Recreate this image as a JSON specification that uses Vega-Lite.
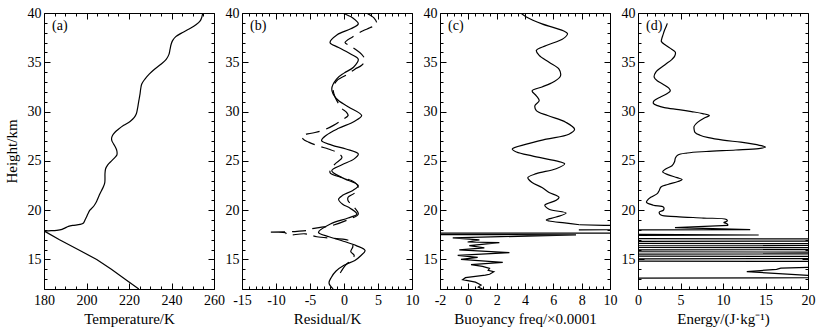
{
"$schema": "https://vega.github.io/schema/vega-lite/v6.json",
"padding": {"left": 4, "top": 6, "right": 4, "bottom": 1},
"spacing": 28,
"bounds": "flush",
"config": {
 "view": {"stroke": null},
 "axis": {"grid": false, "domainColor": "black", "domainWidth": 1, "tickColor": "black", "tickWidth": 1, "labelColor": "black", "titleColor": "black", "labelFont": "Liberation Serif", "labelFontSize": 14, "titleFont": "Liberation Serif", "titleFontSize": 15, "titleFontWeight": "normal", "labelFlush": false, "labelOverlap": false, "titlePadding": 1},
 "text": {"font": "Liberation Serif", "fontSize": 14, "color": "black"}
},
"datasets": {
 "temp_up": [{"h":40,"v":254.7},{"h":39.6,"v":254.3},{"h":39.2,"v":253.5},{"h":38.8,"v":251.5},{"h":38.4,"v":248.5},{"h":38.0,"v":245.0},{"h":37.6,"v":242.0},{"h":37.2,"v":240.5},{"h":36.8,"v":239.8},{"h":36.3,"v":239.3},{"h":35.8,"v":238.8},{"h":35.3,"v":237.5},{"h":34.8,"v":235.0},{"h":34.3,"v":232.0},{"h":33.8,"v":229.5},{"h":33.3,"v":227.5},{"h":32.8,"v":226.0},{"h":32.3,"v":225.5},{"h":31.8,"v":225.2},{"h":31.3,"v":224.8},{"h":30.8,"v":224.4},{"h":30.3,"v":224.0},{"h":29.8,"v":223.5},{"h":29.4,"v":222.5},{"h":29.0,"v":220.5},{"h":28.6,"v":217.5},{"h":28.2,"v":215.0},{"h":27.9,"v":213.4},{"h":27.6,"v":212.3},{"h":27.3,"v":211.8},{"h":27.0,"v":212.0},{"h":26.7,"v":212.8},{"h":26.3,"v":213.8},{"h":26.0,"v":214.3},{"h":25.6,"v":214.3},{"h":25.3,"v":213.2},{"h":25.0,"v":211.8},{"h":24.6,"v":210.0},{"h":24.2,"v":209.0},{"h":23.7,"v":208.7},{"h":23.2,"v":208.7},{"h":22.8,"v":208.6},{"h":22.4,"v":208.0},{"h":22.0,"v":207.1},{"h":21.6,"v":206.2},{"h":21.3,"v":205.6},{"h":20.9,"v":204.8},{"h":20.6,"v":204.0},{"h":20.3,"v":203.0},{"h":20.0,"v":201.6},{"h":19.6,"v":200.6},{"h":19.3,"v":200.0},{"h":19.0,"v":199.3},{"h":18.7,"v":198.6},{"h":18.55,"v":197.0},{"h":18.45,"v":193.5},{"h":18.35,"v":191.5},{"h":18.2,"v":190.0},{"h":18.05,"v":188.5},{"h":17.95,"v":186.0},{"h":17.9,"v":182.0},{"h":17.87,"v":180.2}],
 "temp_low": [{"h":17.87,"v":180.2},{"h":17.0,"v":187.3},{"h":16.0,"v":196.0},{"h":15.0,"v":204.8},{"h":14.0,"v":211.7},{"h":13.0,"v":218.2},{"h":12.0,"v":224.6}],
 "resid_solid": [{"h":40,"v":-0.3},{"h":39.5,"v":1.3},{"h":38.9,"v":2.1},{"h":38.4,"v":1.0},{"h":37.8,"v":-1.0},{"h":37.0,"v":-2.05},{"h":36.5,"v":-0.8},{"h":35.8,"v":1.1},{"h":35.3,"v":2.1},{"h":34.5,"v":1.4},{"h":33.9,"v":0.0},{"h":33.3,"v":-1.1},{"h":32.3,"v":-1.8},{"h":31.3,"v":-1.1},{"h":30.5,"v":0.6},{"h":29.6,"v":2.6},{"h":29.0,"v":1.5},{"h":28.3,"v":-0.8},{"h":27.6,"v":-2.6},{"h":27.05,"v":-3.3},{"h":26.6,"v":-1.8},{"h":26.2,"v":0.3},{"h":25.7,"v":2.1},{"h":25.2,"v":1.5},{"h":24.6,"v":-0.3},{"h":24.0,"v":-1.8},{"h":23.3,"v":-0.3},{"h":22.5,"v":2.1},{"h":22.0,"v":1.3},{"h":21.5,"v":-0.2},{"h":21.1,"v":-0.8},{"h":20.6,"v":-0.2},{"h":20.2,"v":0.9},{"h":19.6,"v":1.9},{"h":19.2,"v":0.6},{"h":18.6,"v":-2.0},{"h":17.75,"v":-3.75},{"h":17.3,"v":-2.2},{"h":16.9,"v":-0.3},{"h":16.4,"v":1.8},{"h":15.9,"v":3.1},{"h":15.4,"v":2.5},{"h":14.9,"v":1.6},{"h":14.4,"v":0.0},{"h":13.8,"v":-1.2},{"h":13.2,"v":-1.85},{"h":12.6,"v":-2.2},{"h":12.0,"v":-1.6}],
 "resid_dash": [{"h":40,"v":3.3},{"h":39.5,"v":4.4},{"h":38.9,"v":4.8},{"h":38.5,"v":3.8},{"h":38.2,"v":2.8},{"h":37.6,"v":1.3},{"h":37.0,"v":0.15},{"h":36.7,"v":0.8},{"h":36.35,"v":1.6},{"h":35.8,"v":2.6},{"h":35.2,"v":3.1},{"h":34.7,"v":2.6},{"h":34.3,"v":1.6},{"h":33.7,"v":0.3},{"h":33.1,"v":-1.1},{"h":32.3,"v":-1.6},{"h":31.45,"v":-1.3},{"h":30.8,"v":-0.8},{"h":30.3,"v":-0.3},{"h":29.9,"v":0.4},{"h":29.6,"v":0.6},{"h":29.1,"v":-0.4},{"h":28.6,"v":-1.55},{"h":28.05,"v":-3.3},{"h":27.8,"v":-4.8},{"h":27.55,"v":-6.2},{"h":27.2,"v":-6.0},{"h":26.9,"v":-5.2},{"h":26.5,"v":-3.7},{"h":26.2,"v":-2.3},{"h":25.8,"v":-0.9},{"h":25.35,"v":-0.3},{"h":24.7,"v":-1.3},{"h":24.2,"v":-1.9},{"h":23.8,"v":-2.05},{"h":23.3,"v":-0.3},{"h":23.0,"v":1.1},{"h":22.6,"v":1.9},{"h":22.15,"v":2.1},{"h":21.7,"v":1.5},{"h":21.3,"v":0.6},{"h":20.96,"v":0.6},{"h":20.3,"v":1.5},{"h":19.6,"v":2.1},{"h":19.0,"v":0.5},{"h":18.4,"v":-2.0},{"h":18.25,"v":-3.5},{"h":18.1,"v":-4.8},{"h":18.0,"v":-5.0},{"h":17.85,"v":-6.9},{"h":17.75,"v":-11.1},{"h":17.7,"v":-8.6},{"h":17.5,"v":-8.4},{"h":17.6,"v":-5.7},{"h":17.3,"v":-4.0},{"h":16.8,"v":1.1},{"h":16.3,"v":1.3},{"h":15.8,"v":1.0},{"h":15.4,"v":1.5},{"h":14.9,"v":1.0},{"h":14.4,"v":0.2},{"h":13.8,"v":-0.4},{"h":13.2,"v":-0.9}],
 "buoy_up": [{"h":40,"v":3.7},{"h":39.6,"v":4.1},{"h":38.9,"v":5.2},{"h":38.2,"v":6.7},{"h":37.9,"v":7.0},{"h":37.4,"v":6.7},{"h":36.7,"v":5.5},{"h":36.2,"v":4.8},{"h":35.7,"v":5.0},{"h":35.0,"v":5.7},{"h":34.3,"v":6.4},{"h":33.6,"v":6.5},{"h":33.0,"v":6.0},{"h":32.5,"v":5.2},{"h":32.1,"v":4.5},{"h":31.6,"v":4.8},{"h":31.1,"v":5.0},{"h":30.6,"v":4.7},{"h":30.1,"v":4.8},{"h":29.6,"v":5.6},{"h":28.9,"v":6.9},{"h":28.2,"v":7.5},{"h":27.7,"v":7.1},{"h":27.2,"v":5.5},{"h":26.7,"v":4.1},{"h":26.2,"v":3.1},{"h":25.9,"v":3.4},{"h":25.5,"v":4.5},{"h":25.0,"v":6.2},{"h":24.7,"v":6.8},{"h":24.2,"v":6.2},{"h":23.7,"v":4.8},{"h":23.3,"v":4.2},{"h":22.8,"v":4.5},{"h":22.3,"v":5.2},{"h":21.8,"v":5.7},{"h":21.3,"v":6.4},{"h":21.0,"v":6.2},{"h":20.5,"v":5.4},{"h":20.1,"v":5.7},{"h":19.7,"v":6.9},{"h":19.3,"v":6.2},{"h":19.0,"v":5.5},{"h":18.9,"v":5.7},{"h":18.7,"v":6.8},{"h":18.52,"v":7.85}],
 "buoy_low": [{"h":18.52,"v":7.85},{"h":18.45,"v":9.6},{"h":18.4,"v":60},{"h":18.0,"v":7.8},{"h":17.68,"v":80},{"h":17.64,"v":-80},{"h":17.5,"v":7.6},{"h":17.18,"v":-1.1},{"h":16.98,"v":0.78},{"h":16.77,"v":-0.05},{"h":16.7,"v":2.19},{"h":16.4,"v":0.07},{"h":16.17,"v":1.13},{"h":15.96,"v":-0.64},{"h":15.69,"v":2.9},{"h":15.42,"v":-0.75},{"h":15.21,"v":0.66},{"h":15.01,"v":-0.52},{"h":14.7,"v":2.43},{"h":14.47,"v":0.19},{"h":14.3,"v":1.0},{"h":14.1,"v":1.5},{"h":13.9,"v":1.4},{"h":13.75,"v":1.8},{"h":13.5,"v":1.5},{"h":13.4,"v":1.2},{"h":13.15,"v":-0.2},{"h":12.95,"v":-0.4},{"h":12.7,"v":0.5},{"h":12.4,"v":0.9},{"h":12.2,"v":0.7},{"h":12.0,"v":1.0}],
 "energy_up": [{"h":38.95,"v":3.45},{"h":38.6,"v":3.3},{"h":38.2,"v":3.1},{"h":37.8,"v":2.95},{"h":37.4,"v":2.8},{"h":37.1,"v":2.75},{"h":36.7,"v":3.3},{"h":36.3,"v":4.0},{"h":36.0,"v":4.4},{"h":35.6,"v":4.3},{"h":35.3,"v":4.0},{"h":34.7,"v":3.1},{"h":34.0,"v":2.1},{"h":33.5,"v":1.9},{"h":33.1,"v":2.3},{"h":32.8,"v":2.9},{"h":32.4,"v":3.6},{"h":32.1,"v":3.8},{"h":31.8,"v":3.4},{"h":31.5,"v":2.7},{"h":31.1,"v":1.9},{"h":30.85,"v":1.8},{"h":30.6,"v":2.3},{"h":30.4,"v":3.1},{"h":30.2,"v":4.8},{"h":30.0,"v":6.3},{"h":29.8,"v":7.6},{"h":29.6,"v":8.4},{"h":29.35,"v":7.8},{"h":28.9,"v":7.0},{"h":28.5,"v":6.6},{"h":28.2,"v":6.6},{"h":27.9,"v":6.7},{"h":27.6,"v":7.3},{"h":27.35,"v":8.3},{"h":27.1,"v":10.0},{"h":26.9,"v":12.1},{"h":26.7,"v":13.6},{"h":26.5,"v":14.7},{"h":26.4,"v":15.0},{"h":26.25,"v":14.2},{"h":26.1,"v":11.5},{"h":25.95,"v":8.0},{"h":25.8,"v":5.8},{"h":25.6,"v":4.7},{"h":25.3,"v":4.4},{"h":24.9,"v":4.3},{"h":24.5,"v":4.0},{"h":24.2,"v":3.3},{"h":23.9,"v":2.9},{"h":23.6,"v":3.5},{"h":23.3,"v":4.6},{"h":23.1,"v":5.2},{"h":22.9,"v":4.7},{"h":22.6,"v":3.5},{"h":22.35,"v":2.7},{"h":22.0,"v":2.5},{"h":21.7,"v":2.3},{"h":21.3,"v":1.5},{"h":21.0,"v":1.1},{"h":20.8,"v":1.0},{"h":20.5,"v":1.8},{"h":20.3,"v":3.0},{"h":20.0,"v":3.0},{"h":19.8,"v":2.5},{"h":19.5,"v":2.7},{"h":19.35,"v":4.5},{"h":19.2,"v":7.7},{"h":19.06,"v":10.4},{"h":18.9,"v":10.5},{"h":18.75,"v":10.1},{"h":18.6,"v":10.5},{"h":18.45,"v":10.6}],
 "energy_low": [{"h":18.45,"v":10.6},{"h":18.22,"v":4.35},{"h":18.03,"v":13.2},{"h":17.8,"v":-60},{"h":17.48,"v":14.2},{"h":17.22,"v":-70},{"h":16.975,"v":90},{"h":16.725,"v":-70},{"h":16.5,"v":90},{"h":16.3,"v":-70},{"h":16.1,"v":90},{"h":15.875,"v":-70},{"h":15.65,"v":90},{"h":15.45,"v":-70},{"h":15.2,"v":90},{"h":14.935,"v":-70},{"h":14.7,"v":90},{"h":14.2,"v":20.3},{"h":14.12,"v":16.8},{"h":14.0,"v":16.3},{"h":13.76,"v":12.8},{"h":13.36,"v":20.3},{"h":13.25,"v":90},{"h":13.0,"v":-70},{"h":12.0,"v":-70}],
 "one": [{"k": 1}]
},
"hconcat": [
 {
  "width": 170, "height": 276,
  "resolve": {"axis": {"x": "independent", "y": "independent"}},
  "layer": [
   {"data": {"name": "temp_up"}, "mark": {"type": "line", "interpolate": "catmull-rom", "clip": true, "color": "black", "strokeWidth": 1.2},
    "encoding": {
     "x": {"field": "v", "type": "quantitative", "scale": {"domain": [180, 260], "nice": false, "zero": false},
       "axis": {"orient": "bottom", "title": "Temperature/K", "values": [180,185,190,195,200,205,210,215,220,225,230,235,240,245,250,255,260], "labelExpr": "datum.value % 20 == 0 ? '' + datum.value : ''", "tickSize": {"condition": {"test": "datum.value % 20 == 0", "value": -6}, "value": -3}, "labelPadding": 10}},
     "y": {"field": "h", "type": "quantitative", "scale": {"domain": [12, 40], "nice": false, "zero": false},
       "axis": {"orient": "left", "title": "Height/km", "values": [12,13,14,15,16,17,18,19,20,21,22,23,24,25,26,27,28,29,30,31,32,33,34,35,36,37,38,39,40], "labelExpr": "datum.value % 5 == 0 ? '' + datum.value : ''", "tickSize": {"condition": {"test": "datum.value % 5 == 0", "value": -6}, "value": -3}, "labelPadding": 9, "titlePadding": 8}},
     "order": {"value": null}
    }},
   {"data": {"name": "temp_low"}, "mark": {"type": "line", "clip": true, "color": "black", "strokeWidth": 1.2},
    "encoding": {
     "x": {"field": "v", "type": "quantitative", "scale": {"domain": [180, 260], "nice": false, "zero": false},
       "axis": {"orient": "top", "title": null, "labels": false, "values": [180,185,190,195,200,205,210,215,220,225,230,235,240,245,250,255,260], "tickSize": {"condition": {"test": "datum.value % 20 == 0", "value": -6}, "value": -3}}},
     "y": {"field": "h", "type": "quantitative", "scale": {"domain": [12, 40], "nice": false, "zero": false},
       "axis": {"orient": "right", "title": null, "labels": false, "values": [12,13,14,15,16,17,18,19,20,21,22,23,24,25,26,27,28,29,30,31,32,33,34,35,36,37,38,39,40], "tickSize": {"condition": {"test": "datum.value % 5 == 0", "value": -6}, "value": -3}}},
     "order": {"value": null}
    }},
   {"data": {"name": "one"}, "mark": {"type": "text", "align": "left", "baseline": "top", "dx": 8, "dy": 6},
    "encoding": {
     "x": {"datum": 180, "type": "quantitative", "scale": {"domain": [180, 260], "nice": false, "zero": false}, "axis": null},
     "y": {"datum": 40, "type": "quantitative", "scale": {"domain": [12, 40], "nice": false, "zero": false}, "axis": null},
     "text": {"value": "(a)"}
    }}
  ]
 },
 {
  "width": 170, "height": 276,
  "resolve": {"axis": {"x": "independent", "y": "independent"}},
  "layer": [
   {"data": {"name": "resid_solid"}, "mark": {"type": "line", "interpolate": "catmull-rom", "clip": true, "color": "black", "strokeWidth": 1.2},
    "encoding": {
     "x": {"field": "v", "type": "quantitative", "scale": {"domain": [-15, 10], "nice": false, "zero": false},
       "axis": {"orient": "bottom", "title": "Residual/K", "values": [-15,-14,-13,-12,-11,-10,-9,-8,-7,-6,-5,-4,-3,-2,-1,0,1,2,3,4,5,6,7,8,9,10], "labelExpr": "datum.value % 5 == 0 ? '' + datum.value : ''", "tickSize": {"condition": {"test": "datum.value % 5 == 0", "value": -6}, "value": -3}, "labelPadding": 10}},
     "y": {"field": "h", "type": "quantitative", "scale": {"domain": [12, 40], "nice": false, "zero": false},
       "axis": {"orient": "left", "title": null, "values": [12,13,14,15,16,17,18,19,20,21,22,23,24,25,26,27,28,29,30,31,32,33,34,35,36,37,38,39,40], "labelExpr": "datum.value % 5 == 0 ? '' + datum.value : ''", "tickSize": {"condition": {"test": "datum.value % 5 == 0", "value": -6}, "value": -3}, "labelPadding": 9}},
     "order": {"value": null}
    }},
   {"data": {"name": "resid_dash"}, "mark": {"type": "line", "interpolate": "catmull-rom", "clip": true, "color": "black", "strokeWidth": 1.2, "strokeDash": [14, 7]},
    "encoding": {
     "x": {"field": "v", "type": "quantitative", "scale": {"domain": [-15, 10], "nice": false, "zero": false},
       "axis": {"orient": "top", "title": null, "labels": false, "values": [-15,-14,-13,-12,-11,-10,-9,-8,-7,-6,-5,-4,-3,-2,-1,0,1,2,3,4,5,6,7,8,9,10], "tickSize": {"condition": {"test": "datum.value % 5 == 0", "value": -6}, "value": -3}}},
     "y": {"field": "h", "type": "quantitative", "scale": {"domain": [12, 40], "nice": false, "zero": false},
       "axis": {"orient": "right", "title": null, "labels": false, "values": [12,13,14,15,16,17,18,19,20,21,22,23,24,25,26,27,28,29,30,31,32,33,34,35,36,37,38,39,40], "tickSize": {"condition": {"test": "datum.value % 5 == 0", "value": -6}, "value": -3}}},
     "order": {"value": null}
    }},
   {"data": {"name": "one"}, "mark": {"type": "text", "align": "left", "baseline": "top", "dx": 8, "dy": 6},
    "encoding": {
     "x": {"datum": -15, "type": "quantitative", "scale": {"domain": [-15, 10], "nice": false, "zero": false}, "axis": null},
     "y": {"datum": 40, "type": "quantitative", "scale": {"domain": [12, 40], "nice": false, "zero": false}, "axis": null},
     "text": {"value": "(b)"}
    }}
  ]
 },
 {
  "width": 170, "height": 276,
  "resolve": {"axis": {"x": "independent", "y": "independent"}},
  "layer": [
   {"data": {"name": "buoy_up"}, "mark": {"type": "line", "interpolate": "catmull-rom", "clip": true, "color": "black", "strokeWidth": 1.2},
    "encoding": {
     "x": {"field": "v", "type": "quantitative", "scale": {"domain": [-2, 10], "nice": false, "zero": false},
       "axis": {"orient": "bottom", "title": "Buoyancy freq/×0.0001", "values": [-2,-1.5,-1,-0.5,0,0.5,1,1.5,2,2.5,3,3.5,4,4.5,5,5.5,6,6.5,7,7.5,8,8.5,9,9.5,10], "labelExpr": "datum.value % 2 == 0 ? '' + datum.value : ''", "tickSize": {"condition": {"test": "datum.value % 2 == 0", "value": -6}, "value": -3}, "labelPadding": 10}},
     "y": {"field": "h", "type": "quantitative", "scale": {"domain": [12, 40], "nice": false, "zero": false},
       "axis": {"orient": "left", "title": null, "values": [12,13,14,15,16,17,18,19,20,21,22,23,24,25,26,27,28,29,30,31,32,33,34,35,36,37,38,39,40], "labelExpr": "datum.value % 5 == 0 ? '' + datum.value : ''", "tickSize": {"condition": {"test": "datum.value % 5 == 0", "value": -6}, "value": -3}, "labelPadding": 9}},
     "order": {"value": null}
    }},
   {"data": {"name": "buoy_low"}, "mark": {"type": "line", "clip": true, "color": "black", "strokeWidth": 1.2},
    "encoding": {
     "x": {"field": "v", "type": "quantitative", "scale": {"domain": [-2, 10], "nice": false, "zero": false},
       "axis": {"orient": "top", "title": null, "labels": false, "values": [-2,-1.5,-1,-0.5,0,0.5,1,1.5,2,2.5,3,3.5,4,4.5,5,5.5,6,6.5,7,7.5,8,8.5,9,9.5,10], "tickSize": {"condition": {"test": "datum.value % 2 == 0", "value": -6}, "value": -3}}},
     "y": {"field": "h", "type": "quantitative", "scale": {"domain": [12, 40], "nice": false, "zero": false},
       "axis": {"orient": "right", "title": null, "labels": false, "values": [12,13,14,15,16,17,18,19,20,21,22,23,24,25,26,27,28,29,30,31,32,33,34,35,36,37,38,39,40], "tickSize": {"condition": {"test": "datum.value % 5 == 0", "value": -6}, "value": -3}}},
     "order": {"value": null}
    }},
   {"data": {"name": "one"}, "mark": {"type": "text", "align": "left", "baseline": "top", "dx": 8, "dy": 6},
    "encoding": {
     "x": {"datum": -2, "type": "quantitative", "scale": {"domain": [-2, 10], "nice": false, "zero": false}, "axis": null},
     "y": {"datum": 40, "type": "quantitative", "scale": {"domain": [12, 40], "nice": false, "zero": false}, "axis": null},
     "text": {"value": "(c)"}
    }}
  ]
 },
 {
  "width": 170, "height": 276,
  "resolve": {"axis": {"x": "independent", "y": "independent"}},
  "layer": [
   {"data": {"name": "energy_up"}, "mark": {"type": "line", "interpolate": "catmull-rom", "clip": true, "color": "black", "strokeWidth": 1.2},
    "encoding": {
     "x": {"field": "v", "type": "quantitative", "scale": {"domain": [0, 20], "nice": false, "zero": false},
       "axis": {"orient": "bottom", "title": "Energy/(J·kg⁻¹)", "values": [0,1,2,3,4,5,6,7,8,9,10,11,12,13,14,15,16,17,18,19,20], "labelExpr": "datum.value % 5 == 0 ? '' + datum.value : ''", "tickSize": {"condition": {"test": "datum.value % 5 == 0", "value": -6}, "value": -3}, "labelPadding": 10}},
     "y": {"field": "h", "type": "quantitative", "scale": {"domain": [12, 40], "nice": false, "zero": false},
       "axis": {"orient": "left", "title": null, "values": [12,13,14,15,16,17,18,19,20,21,22,23,24,25,26,27,28,29,30,31,32,33,34,35,36,37,38,39,40], "labelExpr": "datum.value % 5 == 0 ? '' + datum.value : ''", "tickSize": {"condition": {"test": "datum.value % 5 == 0", "value": -6}, "value": -3}, "labelPadding": 9}},
     "order": {"value": null}
    }},
   {"data": {"name": "energy_low"}, "mark": {"type": "line", "clip": true, "color": "black", "strokeWidth": 1.2},
    "encoding": {
     "x": {"field": "v", "type": "quantitative", "scale": {"domain": [0, 20], "nice": false, "zero": false},
       "axis": {"orient": "top", "title": null, "labels": false, "values": [0,1,2,3,4,5,6,7,8,9,10,11,12,13,14,15,16,17,18,19,20], "tickSize": {"condition": {"test": "datum.value % 5 == 0", "value": -6}, "value": -3}}},
     "y": {"field": "h", "type": "quantitative", "scale": {"domain": [12, 40], "nice": false, "zero": false},
       "axis": {"orient": "right", "title": null, "labels": false, "values": [12,13,14,15,16,17,18,19,20,21,22,23,24,25,26,27,28,29,30,31,32,33,34,35,36,37,38,39,40], "tickSize": {"condition": {"test": "datum.value % 5 == 0", "value": -6}, "value": -3}}},
     "order": {"value": null}
    }},
   {"data": {"name": "one"}, "mark": {"type": "text", "align": "left", "baseline": "top", "dx": 8, "dy": 6},
    "encoding": {
     "x": {"datum": 0, "type": "quantitative", "scale": {"domain": [0, 20], "nice": false, "zero": false}, "axis": null},
     "y": {"datum": 40, "type": "quantitative", "scale": {"domain": [12, 40], "nice": false, "zero": false}, "axis": null},
     "text": {"value": "(d)"}
    }}
  ]
 }
]
}
